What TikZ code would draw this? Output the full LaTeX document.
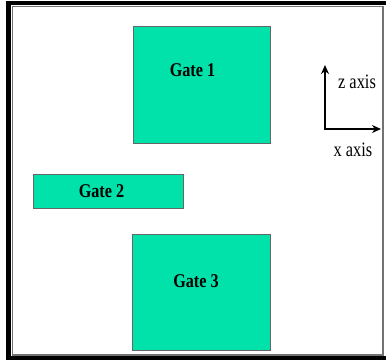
\documentclass[tikz,border=0pt]{standalone}
\usepackage{fontspec}
\setmainfont{Liberation Serif}
\usetikzlibrary{arrows.meta,positioning,calc}
\definecolor{gatefill}{RGB}{0,226,170}

\begin{document}
\begin{tikzpicture}[x=1pt,y=-1pt,>={Stealth[length=9pt,width=8pt]}]
\tikzstyle{gate}=[draw=black!60,line width=0.9pt,fill=gatefill,inner sep=0pt]
  \tikzstyle{gatelabel}=[font=\bfseries\fontsize{19.5}{21}\selectfont,xscale=0.83,transform shape]
  \tikzstyle{axislabel}=[font=\fontsize{20.5}{22}\selectfont,xscale=0.8,transform shape]
  \tikzstyle{axis}=[->,line width=2.5pt]
%
\useasboundingbox (0,0) rectangle (386,360);
  \fill[black] (6,1) rectangle (386,5);
  \fill[black] (6,1) rectangle (11,360);
  \fill[black] (6,356) rectangle (386,360);
  \draw[black!55,line width=1.5pt] (12.5,6.5) rectangle (383,355);
%
\node[gate,minimum width=137pt,minimum height=117pt] (gate1) at (201.5,84.5) {};
  \node[gate,minimum width=150pt,minimum height=34pt] (gate2) at (108,191) {};
  \node[gate,minimum width=138pt,minimum height=116pt] (gate3) at (201,292) {};
  \node[gatelabel] (lab1) at ($(gate1.north)!0.38!(gate1.south)+(-9,0)$) {Gate 1};
  \node[gatelabel] (lab2) at ($(gate2.center)+(-6.5,0)$) {Gate 2};
  \node[gatelabel] (lab3) at ($(gate3.north)!0.41!(gate3.south)+(-5,0)$) {Gate 3};
%
\coordinate (orig) at (325,129);
  \coordinate (ztip) at (325,65);
  \coordinate (xtip) at (381,129);
  \draw[axis] (orig) -- (ztip);
  \draw[axis] ([xshift=-1.25pt]orig) -- (xtip);
  \node[axislabel] (zlab) at (357,82) {z axis};
  \node[axislabel] (xlab) at (353,150) {x axis};
\end{tikzpicture}
\end{document}
